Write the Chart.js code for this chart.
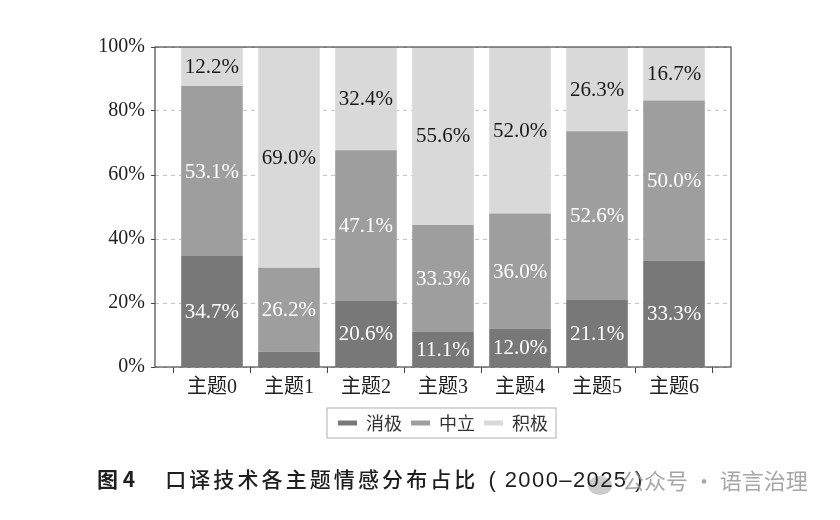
<!DOCTYPE html>
<html>
<head>
<meta charset="utf-8">
<script src="https://cdn.jsdelivr.net/npm/chart.js@4"></script>
<style>
  html, body { margin: 0; padding: 0; background: #fff; }
  #wrap { position: relative; width: 840px; height: 520px; }
  #caption {
    position: absolute; left: 97px; top: 463px;
    font-family: "Noto Sans CJK SC", sans-serif; font-size: 21px; font-weight: 500;
    color: #1e1e1e; white-space: nowrap; letter-spacing: 3.1px;
  }
  #caption b { font-weight: 700; letter-spacing: 0; margin-right: 30px; }
  #caption .yr { letter-spacing: 1.4px; font-family: "Liberation Sans", sans-serif; font-size: 22px; margin-left: 10px; }
  #mark {
    position: absolute; left: 622px; top: 463px;
    font-family: "Noto Sans CJK SC", sans-serif; font-size: 22px;
    color: rgba(150,150,150,0.85); white-space: nowrap;
  }
  #logo {
    position: absolute; left: 588px; top: 476px; width: 24px; height: 19px;
    border-radius: 50%; background: rgba(160,160,160,0.55);
  }
</style>
</head>
<body>
<div id="wrap">
  <canvas id="chart" width="840" height="520"></canvas>
  <div id="logo"></div>
  <div id="caption"><b>图 4</b>口译技术各主题情感分布占比<span class="yr">( 2000–2025 )</span></div>
  <div id="mark">公众号 · 语言治理</div>
</div>
<script>
const topics = ['主题0', '主题1', '主题2', '主题3', '主题4', '主题5', '主题6'];
const negative = [34.7, 4.8, 20.6, 11.1, 12.0, 21.1, 33.3];
const neutral  = [53.1, 26.2, 47.1, 33.3, 36.0, 52.6, 50.0];
const positive = [12.2, 69.0, 32.4, 55.6, 52.0, 26.3, 16.7];
const seriesNames = ['消极', '中立', '积极'];
const yTicks = [0, 20, 40, 60, 80, 100];

const serif = "'Liberation Serif', 'Noto Sans CJK SC', serif";
const cjk = "'Noto Sans CJK SC', sans-serif";

function points(arr) {
  return arr.map((v, i) => ({ x: i, y: v }));
}

// labels in the middle of each segment, skip very thin ones
const segmentLabels = {
  id: 'segmentLabels',
  afterDatasetsDraw(chart) {
    const ctx = chart.ctx;
    ctx.save();
    ctx.font = '21px ' + serif;
    ctx.textAlign = 'center';
    ctx.textBaseline = 'middle';
    chart.data.datasets.forEach((ds, di) => {
      const meta = chart.getDatasetMeta(di);
      meta.data.forEach((bar, i) => {
        const v = ds.data[i].y;
        if (v < 8) return;
        ctx.fillStyle = di === 2 ? '#1a1a1a' : '#ffffff';
        ctx.fillText(v.toFixed(1) + '%', bar.x, (bar.y + bar.base) / 2 + 1);
      });
    });
    ctx.restore();
  }
};

// frame around plot and around legend
const frames = {
  id: 'frames',
  afterDraw(chart) {
    const ctx = chart.ctx;
    const a = chart.chartArea;
    ctx.save();
    ctx.strokeStyle = '#4a4a4a';
    ctx.lineWidth = 1.2;
    ctx.strokeRect(a.left, a.top, a.right - a.left, a.bottom - a.top);

    const boxes = chart.legend.legendHitBoxes;
    if (boxes && boxes.length) {
      const l = Math.min(...boxes.map(b => b.left)) - 11;
      const r = Math.max(...boxes.map(b => b.left + b.width)) + 8;
      const t = Math.min(...boxes.map(b => b.top)) - 6;
      const btm = Math.max(...boxes.map(b => b.top + b.height)) + 6;
      ctx.strokeStyle = '#b0b0b0';
      ctx.lineWidth = 1;
      ctx.strokeRect(l, t, r - l, btm - t);
    }
    ctx.restore();
  }
};

new Chart(document.getElementById('chart').getContext('2d'), {
  type: 'bar',
  data: {
    datasets: [
      { label: seriesNames[0], data: points(negative), backgroundColor: '#787878' },
      { label: seriesNames[1], data: points(neutral), backgroundColor: '#9e9e9e' },
      { label: seriesNames[2], data: points(positive), backgroundColor: '#d9d9d9' }
    ]
  },
  options: {
    responsive: false,
    animation: false,
    layout: { padding: { left: 0, right: 109, top: 47, bottom: 78 } },
    datasets: { bar: { categoryPercentage: 0.8, barPercentage: 1 } },
    plugins: {
      tooltip: { enabled: false },
      legend: {
        position: 'bottom',
        fullSize: false,
        labels: {
          boxWidth: 19,
          boxHeight: 5,
          padding: 9,
          color: '#333',
          font: { family: cjk, size: 18 }
        }
      }
    },
    scales: {
      x: {
        type: 'linear',
        stacked: true,
        offset: false,
        min: -0.74,
        max: 6.74,
        afterBuildTicks: s => { s.ticks = topics.map((_, i) => ({ value: i })); },
        afterFit: s => { s.height = 38; },
        grid: { drawOnChartArea: false, drawTicks: true, tickLength: 6, tickColor: '#444' },
        border: { display: false },
        ticks: {
          padding: 3,
          color: '#222',
          font: { family: serif, size: 20 },
          callback: v => topics[v]
        }
      },
      y: {
        stacked: true,
        min: 0,
        max: 100,
        afterBuildTicks: s => { s.ticks = yTicks.map(v => ({ value: v })); },
        afterFit: s => { s.width = 155; },
        grid: { color: '#c4c4c4', tickLength: 4, tickColor: '#444' },
        border: { display: false, dash: [4, 4] },
        ticks: {
          padding: 6,
          color: '#222',
          font: { family: serif, size: 20 },
          callback: v => v + '%'
        }
      }
    }
  },
  plugins: [segmentLabels, frames]
});
</script>
</body>
</html>
